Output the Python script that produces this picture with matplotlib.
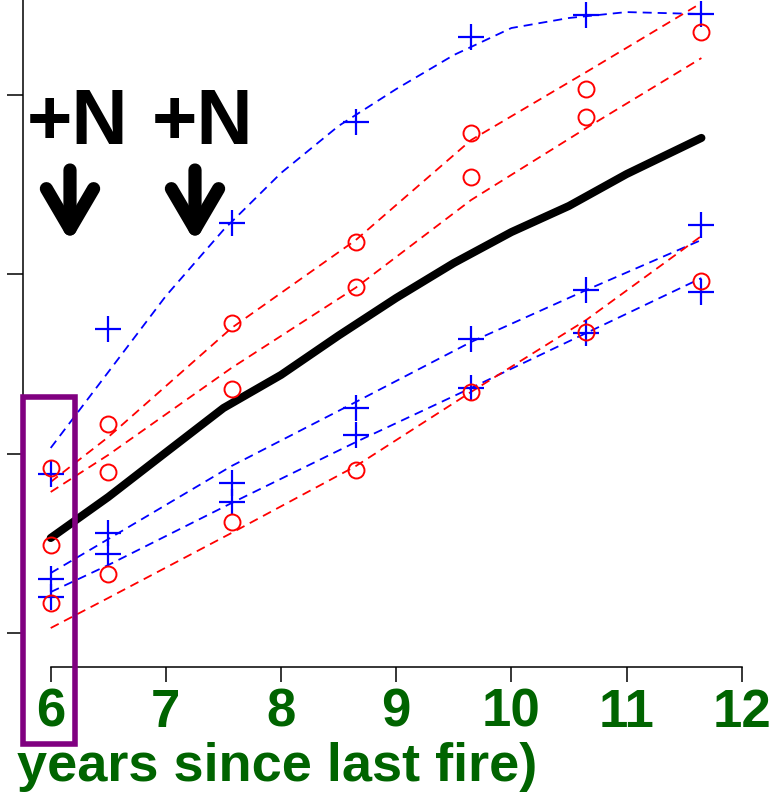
import numpy as np
import matplotlib
matplotlib.use("Agg")
import matplotlib.pyplot as plt
from matplotlib.patches import Rectangle, FancyArrowPatch

plt.rcParams["font.family"] = ["Liberation Sans", "DejaVu Sans"]
plt.rcParams["lines.scale_dashes"] = False

# Edad de la parcela (años desde el último fuego)
ages = [6.0, 6.5, 7.57, 8.65, 9.65, 10.65, 11.65]

# Cruces azules (tres series)
blue_hi = [1.885, 2.696, 3.288, 3.852, 4.327, 4.450, 4.455]
blue_mid = [1.299, 1.556, 1.835, 2.254, 2.640, 2.913, 3.277]
blue_lo = [1.198, 1.439, 1.729, 2.103, 2.366, 2.673, 2.902]

# Círculos rojos (tres series)
red_hi = [1.919, 2.165, 2.729, 3.182, 3.791, 4.037, 4.355]
red_mid = [1.489, 1.897, 2.360, 2.930, 3.545, 3.880, np.nan]
red_lo = [1.165, 1.327, 1.617, 1.908, 2.344, 2.679, 2.964]

# Curvas ajustadas
fit_x = [6.0, 6.5, 7.0, 7.5, 8.0, 8.5, 9.0, 9.5, 10.0, 10.5, 11.0, 11.65]
fit_blue_top = [2.031, 2.455, 2.880, 3.249, 3.567, 3.830, 4.036, 4.226, 4.377, 4.433, 4.466, 4.455]
fit_mean = [1.528, 1.757, 2.006, 2.254, 2.439, 2.659, 2.869, 3.064, 3.237, 3.383, 3.561, 3.763]

fit_blue_mid = [1.332, 1.522, 1.930, 2.288, 2.623, 2.913, 3.193]
fit_blue_lo = [1.226, 1.377, 1.723, 2.064, 2.366, 2.673, 2.980]
fit_red_a = [1.841, 2.092, 2.701, 3.193, 3.751, 4.131, 4.517]
fit_red_b = [1.785, 1.992, 2.478, 2.927, 3.416, 3.818, 4.209]
fit_red_lo = [1.025, 1.193, 1.556, 1.930, 2.344, 2.746, 3.215]

x_ticks = [6, 7, 8, 9, 10, 11, 12]
y_ticks = [1, 2, 3, 4]

W, H = 773, 794
green = "#006400"
blue = "#0000ff"
red = "#ff0000"
dash = (6.5, 4.3)

fig = plt.figure(figsize=(W / 100, H / 100), dpi=100)
ax = fig.add_axes([0, 0, 1, 1])
ax.set_xlim(5.5598, 12.2716)
ax.set_ylim(0.0978, 4.5335)
ax.patch.set_alpha(0)

# Curvas discontinuas
ax.plot(fit_x, fit_blue_top, color=blue, lw=1.3, dashes=dash)
ax.plot(ages, fit_blue_mid, color=blue, lw=1.3, dashes=dash)
ax.plot(ages, fit_blue_lo, color=blue, lw=1.3, dashes=dash)
ax.plot(ages, fit_red_a, color=red, lw=1.3, dashes=dash)
ax.plot(ages, fit_red_b, color=red, lw=1.3, dashes=dash)
ax.plot(ages, fit_red_lo, color=red, lw=1.3, dashes=dash)

# Media
ax.plot(fit_x, fit_mean, color="black", lw=5.8, solid_capstyle="round", solid_joinstyle="round")

# Puntos
for serie in [blue_hi, blue_mid, blue_lo]:
    ax.plot(ages, serie, ls="none", marker="+", ms=19, mew=1.6, color=blue)
for serie in [red_hi, red_mid, red_lo]:
    ax.plot(ages, serie, ls="none", marker="o", ms=11.5, mew=1.4, mfc="none", mec=red)

# Ejes estilo R
for s in ["top", "right"]:
    ax.spines[s].set_visible(False)
ax.spines["bottom"].set_position(("data", 0.807))
ax.spines["bottom"].set_bounds(6, 12)
ax.spines["left"].set_position(("data", 5.7595))
ax.spines["left"].set_bounds(1, 4.5335)
for s in ["bottom", "left"]:
    ax.spines[s].set_linewidth(1.1)

ax.set_xticks(x_ticks)
ax.set_xticklabels([str(t) for t in x_ticks], fontweight="bold")
ax.tick_params(axis="x", length=10.8, width=1.1, pad=4, labelsize=38, labelcolor=green)
ax.set_yticks(y_ticks)
ax.tick_params(axis="y", length=11.5, width=1.1, labelleft=False)

fig.text(537 / W, 1 - 781 / H, "years since last fire)", ha="right", va="baseline",
         fontsize=39, fontweight="bold", color=green)

# Fertilización
for cx in [78, 203]:
    fig.text(cx / W, 1 - 144 / H, "+N", ha="center", va="baseline",
             fontsize=56, fontweight="bold", color="black")
for ax_px in [70, 195]:
    arr = FancyArrowPatch(posA=(ax_px / W, 1 - 170 / H), posB=(ax_px / W, 1 - 242 / H),
                          transform=fig.transFigure, arrowstyle="->,head_length=29,head_width=17",
                          mutation_scale=1, lw=9.5, color="black", shrinkA=0, shrinkB=0,
                          capstyle="round", joinstyle="round")
    fig.add_artist(arr)

# Recuadro morado
rect = Rectangle((22.5 / W, 1 - 743.5 / H), 52 / W, 347 / H, transform=fig.transFigure,
                 fill=False, ec="#800080", lw=4, joinstyle="miter")
fig.add_artist(rect)

fig.savefig("out.png", dpi=100)
